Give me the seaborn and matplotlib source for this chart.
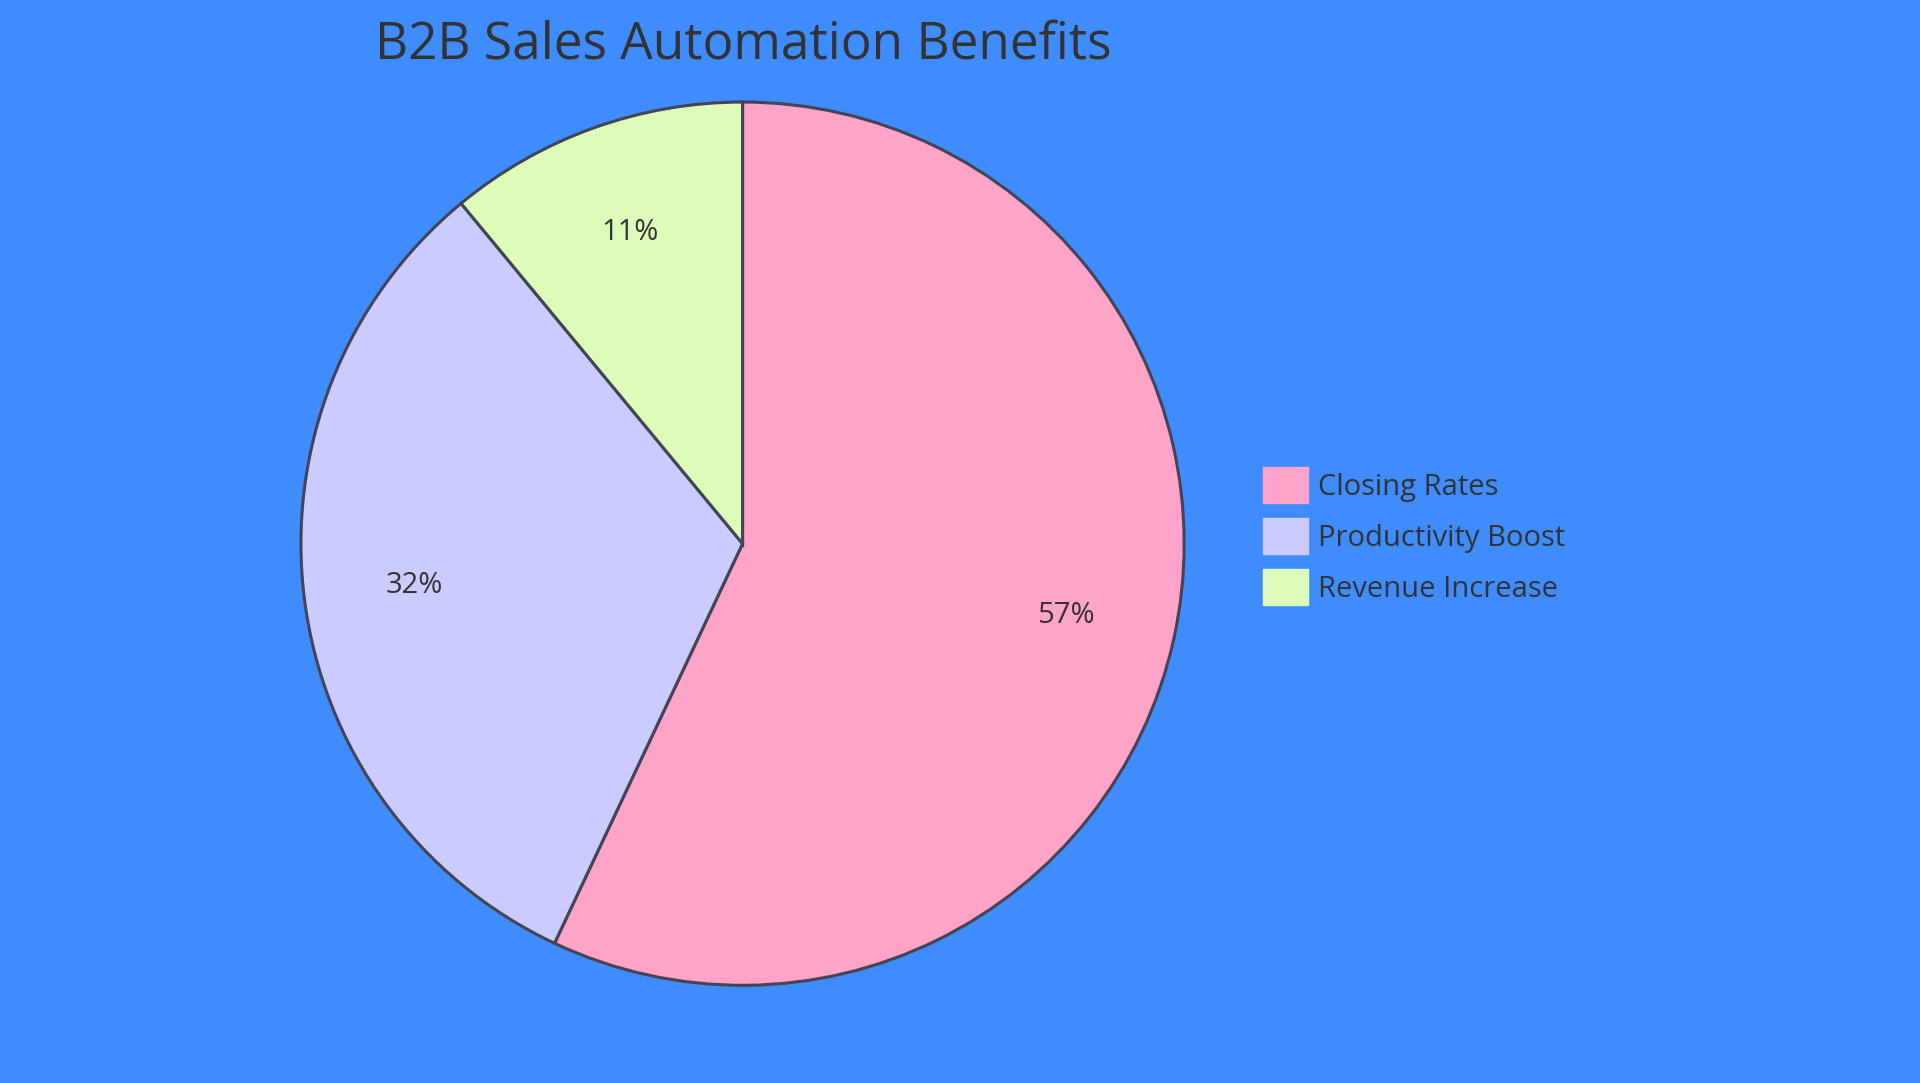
import matplotlib
matplotlib.use("Agg")
import matplotlib.pyplot as plt
import seaborn as sns
from matplotlib.patches import Patch

categories = ["Closing Rates", "Productivity Boost", "Revenue Increase"]
values = [57, 32, 11]
colors = ["#FFA3C8", "#CBCBFF", "#DDFCBA"]
title = "B2B Sales Automation Benefits"

sns.set_theme(style="white")
plt.rcParams['font.family'] = ['Open Sans', 'DejaVu Sans']
bg = "#3F8CFF"
txt = "#333333"

fig = plt.figure(figsize=(19.2, 10.83), dpi=100, facecolor=bg)
ax = fig.add_axes([0.156, 0.089, 0.4615, 0.818])
ax.set_facecolor(bg)
wedges, texts, autotexts = ax.pie(
    values, colors=colors, startangle=90, counterclock=False,
    autopct=lambda p: f"{p:.0f}%", pctdistance=0.75,
    wedgeprops=dict(edgecolor="#444455", linewidth=2.2),
    textprops=dict(color=txt, fontsize=21))
ax.set_xlim(-1.003, 1.003)
ax.set_ylim(-1.003, 1.003)
ax.set_aspect("equal")
ax.axis("off")

fig.text(0.387, 0.958, title, ha="center", va="center", fontsize=37, color=txt)

handles = [Patch(facecolor=c, edgecolor=c) for c in colors]
leg = fig.legend(handles, categories, loc="center left", bbox_to_anchor=(0.644, 0.505),
                 frameon=False, fontsize=21, labelcolor=txt, handlelength=1.55,
                 handleheight=1.55, handletextpad=0.35, labelspacing=0.5)
fig.savefig("out.png", dpi=100, facecolor=bg)
